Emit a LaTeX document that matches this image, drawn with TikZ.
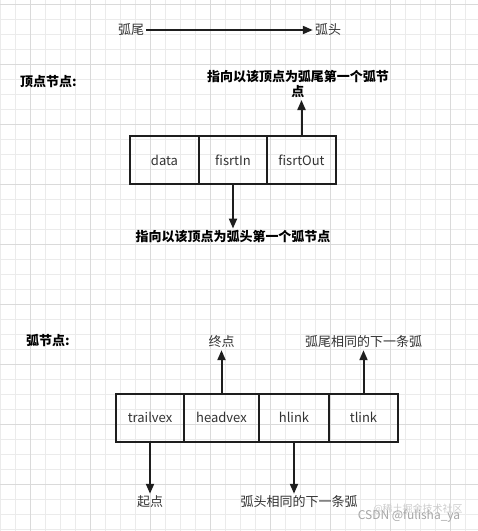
\documentclass[tikz,border=0pt]{standalone}
\usepackage{fontspec}
\setmainfont{Noto Sans CJK SC}
\usetikzlibrary{arrows.meta}
\definecolor{gridminor}{HTML}{EBEBEB}
\definecolor{gridmajor}{HTML}{DADADA}
\definecolor{ink}{HTML}{1E1E1E}
\definecolor{txt}{HTML}{333333}
\tikzset{
  cell/.style={draw=ink, line width=2pt, minimum height=48pt, inner sep=0pt, text=txt, font=\fontsize{13}{15}\selectfont},
  lbl/.style={text=txt, inner sep=2pt, font=\fontsize{13}{15}\selectfont},
  blbl/.style={text=black, inner sep=2pt, align=center, font=\fontsize{13}{15}\selectfont\bfseries},
  arr/.style={draw=ink, line width=2pt, -{Triangle[length=10pt,width=8pt]}},
  wm/.style={text=gray!70, inner sep=0pt, font=\fontsize{12}{14}\selectfont}
}
\begin{document}
\begin{tikzpicture}[x=1pt,y=-1pt]
\useasboundingbox (0,0) rectangle (478,531);
\fill[white] (0,0) rectangle (478,531);
% grid
\foreach \x in {0,15,...,478} \draw[gridminor, line width=0.8pt] (\x,0) -- (\x,531);
\foreach \y in {4,19,...,531} \draw[gridminor, line width=0.8pt] (0,\y) -- (478,\y);
\foreach \x in {30,90,...,478} \draw[gridmajor, line width=0.8pt] (\x,0) -- (\x,531);
\foreach \y in {4,64,...,531} \draw[gridmajor, line width=0.8pt] (0,\y) -- (478,\y);

% legend
\node[lbl] (tail) at (131,30) {弧尾};
\node[lbl] (head) at (328,30) {弧头};
\draw[arr] (tail.east) -- (head.west);

% vertex node
\node[blbl, anchor=west] (vtitle) at (18,82) {顶点节点:};
\node[cell, minimum width=69pt] (data) at (164.5,160) {data};
\node[cell, minimum width=68pt] (fin) at (233,160) {fisrtIn};
\node[cell, minimum width=69pt] (fout) at (301.5,160) {fisrtOut};
\node[blbl, anchor=south] (outlbl) at (298,100) {指向以该顶点为弧尾第一个弧节\\点};
\node[blbl] (inlbl) at (233,237) {指向以该顶点为弧头第一个弧节点};
\draw[arr] (fout.north) -- (fout.north |- outlbl.south);
\draw[arr] (fin.south) -- (fin.south |- inlbl.north);

% arc node
\node[blbl, anchor=west] (atitle) at (24,340) {弧节点:};
\node[cell, minimum width=68pt] (tv) at (150,417.5) {trailvex};
\node[cell, minimum width=75pt] (hv) at (221.5,417.5) {headvex};
\node[cell, minimum width=70pt] (hl) at (294,417.5) {hlink};
\node[cell, minimum width=69pt] (tl) at (363.5,417.5) {tlink};
\node[lbl] (endl) at (221.5,342) {终点};
\node[lbl] (tllbl) at (363.5,342) {弧尾相同的下一条弧};
\node[lbl] (startl) at (150,502) {起点};
\node[lbl] (hllbl) at (299,502) {弧头相同的下一条弧};
\draw[arr] (hv.north) -- (hv.north |- endl.south);
\draw[arr] (tl.north) -- (tl.north |- tllbl.south);
\draw[arr] (tv.south) -- (tv.south |- startl.north);
\draw[arr] (hl.south) -- (hl.south |- hllbl.north);

% watermark
\node[wm, text=gray!40, font=\fontsize{10}{12}\selectfont] (wm2) at (418,509) {@稀土掘金技术社区};
\node[wm] (wm1) at (409,516) {CSDN @fulisha\_ya};
\end{tikzpicture}
\end{document}
